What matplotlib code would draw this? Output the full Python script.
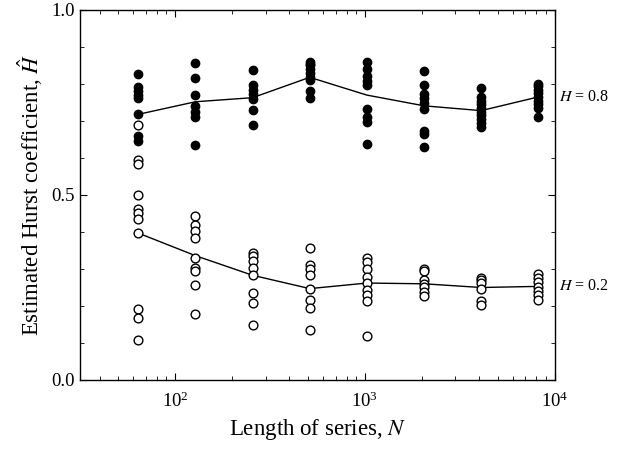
import matplotlib
matplotlib.use("Agg")
import matplotlib.pyplot as plt
from matplotlib.ticker import MultipleLocator, LogLocator, LogFormatterMathtext, NullFormatter
import matplotlib.transforms as mtransforms

plt.rcParams['font.family'] = ['Liberation Serif', 'DejaVu Serif']
plt.rcParams['mathtext.fontset'] = 'stix'

# series lengths
lengths = [64, 128, 256, 512, 1024, 2048, 4096, 8192]

# estimates for H = 0.8 (filled)
h08_points = [
    [0.827, 0.791, 0.781, 0.770, 0.761, 0.718, 0.660, 0.647],
    [0.856, 0.817, 0.769, 0.740, 0.724, 0.711, 0.635],
    [0.839, 0.796, 0.785, 0.772, 0.759, 0.730, 0.690],
    [0.860, 0.855, 0.850, 0.840, 0.830, 0.820, 0.810, 0.781, 0.761],
    [0.860, 0.840, 0.822, 0.808, 0.797, 0.732, 0.711, 0.697, 0.638],
    [0.834, 0.797, 0.772, 0.761, 0.748, 0.732, 0.673, 0.666, 0.630],
    [0.790, 0.765, 0.755, 0.745, 0.735, 0.725, 0.715, 0.705, 0.695, 0.685],
    [0.800, 0.795, 0.785, 0.775, 0.765, 0.755, 0.745, 0.735, 0.710],
]
h08_mean = [0.718, 0.752, 0.763, 0.818, 0.770, 0.741, 0.728, 0.765]

# estimates for H = 0.2 (open)
h02_points = [
    [0.689, 0.595, 0.585, 0.499, 0.463, 0.450, 0.435, 0.397, 0.192, 0.168, 0.107],
    [0.444, 0.418, 0.403, 0.385, 0.330, 0.302, 0.295, 0.257, 0.178],
    [0.344, 0.335, 0.322, 0.304, 0.283, 0.236, 0.208, 0.148],
    [0.357, 0.310, 0.300, 0.285, 0.247, 0.216, 0.195, 0.135],
    [0.329, 0.318, 0.299, 0.278, 0.261, 0.244, 0.230, 0.213, 0.120],
    [0.300, 0.294, 0.270, 0.260, 0.252, 0.239, 0.226],
    [0.275, 0.269, 0.262, 0.245, 0.213, 0.203],
    [0.286, 0.276, 0.266, 0.252, 0.241, 0.230, 0.217],
]
h02_mean = [0.397, 0.336, 0.283, 0.247, 0.262, 0.260, 0.250, 0.253]

fig = plt.figure(figsize=(6.24, 4.54), dpi=100)
ax = fig.add_axes([0.128, 0.163, 0.761, 0.815])

# mean lines
ax.plot(lengths, h08_mean, color='black', lw=1.0, zorder=2)
ax.plot(lengths, h02_mean, color='black', lw=1.0, zorder=2)

# filled points
for n, vals in zip(lengths, h08_points):
    ax.plot([n] * len(vals), vals, 'o', ms=6, mfc='black', mec='black', zorder=3)
# open points
for n, vals in zip(lengths, h02_points):
    ax.plot([n] * len(vals), vals, 'o', ms=6.3, mfc='white', mec='black', mew=1.0, zorder=4)

ax.set_xscale('log')
ax.set_xlim(31.5, 1e4)
ax.set_ylim(0, 1.0)

ax.xaxis.set_major_locator(LogLocator(base=10))
ax.xaxis.set_major_formatter(LogFormatterMathtext())
ax.xaxis.set_minor_locator(LogLocator(base=10, subs=range(2, 10)))
ax.xaxis.set_minor_formatter(NullFormatter())
ax.yaxis.set_major_locator(MultipleLocator(0.5))
ax.yaxis.set_minor_locator(MultipleLocator(0.1))
ax.yaxis.set_major_formatter(plt.FuncFormatter(lambda v, p: f"{v:.1f}"))

ax.tick_params(which='both', direction='in', top=True, right=True, labelsize=13.5)
ax.tick_params(which='major', length=5, width=0.8)
ax.tick_params(which='minor', length=3, width=0.6)
ax.tick_params(axis='x', pad=8)
for s in ax.spines.values():
    s.set_linewidth(1.0)

ax.set_xlabel('Length of series, $\\mathit{N}$', fontsize=16.5, labelpad=5)
ax.set_ylabel('Estimated Hurst coefficient, $\\hat{\\mathit{H}}$', fontsize=16.5, labelpad=5)

# labels at the right of the axes
trans = mtransforms.blended_transform_factory(ax.transAxes, ax.transData)
ax.text(1.008, h08_mean[-1], '$\\mathit{H}$ = 0.8', transform=trans, fontsize=11.5,
        va='center', ha='left')
ax.text(1.008, h02_mean[-1], '$\\mathit{H}$ = 0.2', transform=trans, fontsize=11.5,
        va='center', ha='left')

fig.savefig('out.png', dpi=100)
